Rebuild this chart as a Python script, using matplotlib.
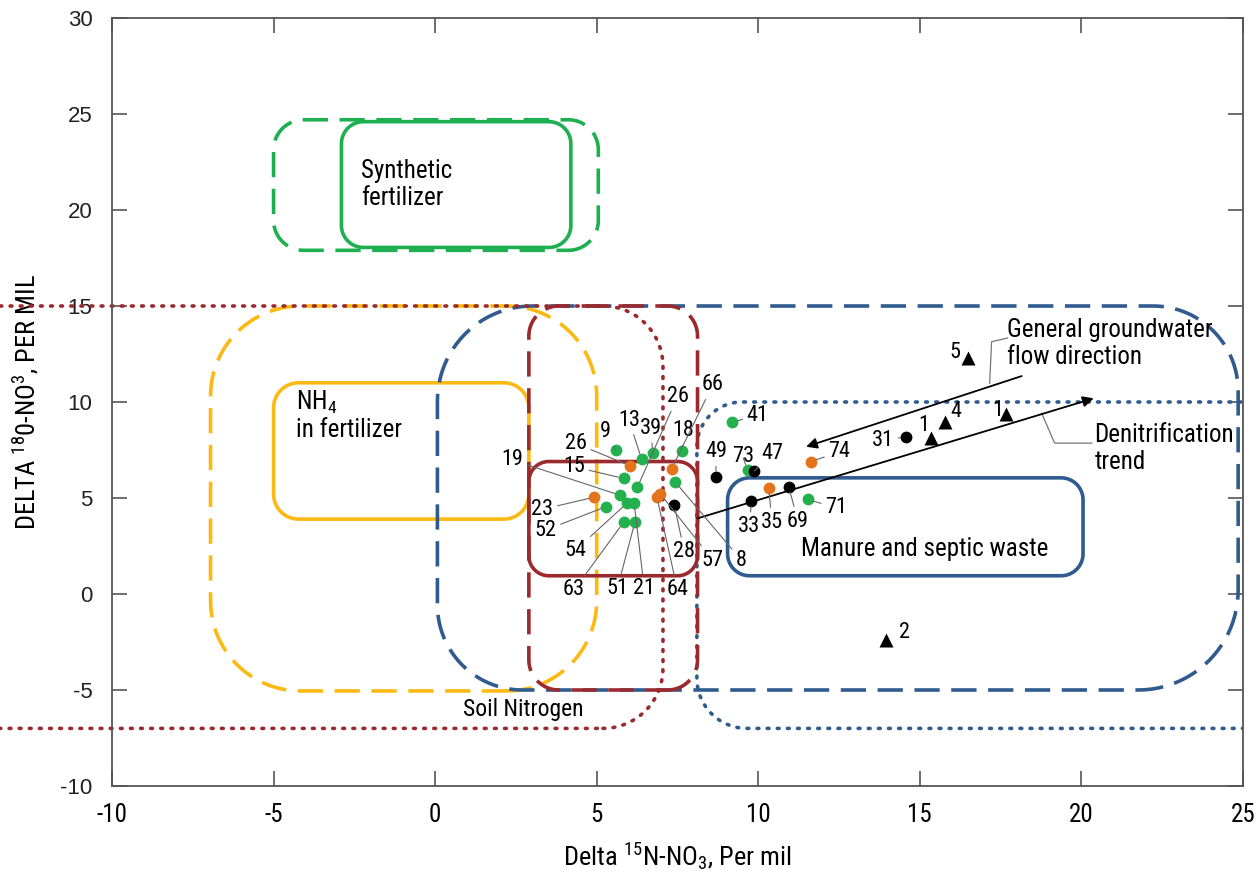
import numpy as np
import matplotlib
matplotlib.use("Agg")
from matplotlib import pyplot as plt

NARROW = ["Roboto Condensed", "DejaVu Sans"]
plt.rcParams["mathtext.fontset"] = "custom"
plt.rcParams["mathtext.rm"] = "Roboto Condensed"
plt.rcParams["mathtext.it"] = "Roboto Condensed"
plt.rcParams["axes.unicode_minus"] = False

# sample points
green_ids = ["9", "13", "39", "18", "26", "15", "19", "54", "21", "52", "63", "51", "8", "41", "73", "71"]
green_x = [5.59, 6.39, 6.73, 7.63, 6.26, 5.83, 5.73, 5.93, 6.16, 5.29, 5.83, 6.18, 7.42, 9.19, 9.67, 11.53]
green_y = [7.50, 7.01, 7.33, 7.45, 5.56, 6.02, 5.14, 4.72, 4.72, 4.55, 3.73, 3.73, 5.85, 8.94, 6.46, 4.93]

orange_ids = ["26", "66", "23", "64", "57", "35", "74"]
orange_x = [6.04, 7.32, 4.92, 6.86, 6.97, 10.32, 11.62]
orange_y = [6.67, 6.53, 5.04, 5.07, 5.21, 5.50, 6.89]

black_ids = ["28", "49", "47", "33", "69", "31"]
black_x = [7.40, 8.69, 9.88, 9.79, 10.94, 14.58]
black_y = [4.64, 6.11, 6.41, 4.86, 5.59, 8.19]

tri_ids = ["1", "4", "5", "1", "2"]
tri_x = [15.33, 15.77, 16.49, 17.68, 13.96]
tri_y = [8.11, 8.98, 12.28, 9.38, -2.40]

GREEN = "#22b14c"
ORANGE = "#e5731c"
YELLOW = "#fdb913"
RED = "#9b2a2f"
BLUE = "#2f5b8e"
GREENLINE = "#1daf50"

fig = plt.figure(figsize=(12.6, 8.83), dpi=100)
ax = fig.add_axes([112/1260, 1-786/883, (1243-112)/1260, 768/883])
ax.set_xlim(-10, 25)
ax.set_ylim(-10, 30)

SX = (1243-112)/35.0   # px per x unit
SY = 768/40.0          # px per y unit


def rrect(x0, x1, y0, y1, r, **kw):
    # rounded rectangle, corner radius in pixels (br, tr, tl, bl)
    if np.isscalar(r):
        r = [r, r, r, r]
    t = np.linspace(0, np.pi/2, 25)
    xs, ys = [], []
    corners = [(x1, y0, -np.pi/2, -1, 1), (x1, y1, 0, -1, -1),
               (x0, y1, np.pi/2, 1, -1), (x0, y0, np.pi, 1, 1)]
    for (cx, cy, a0, dx, dy), rr in zip(corners, r):
        rx, ry = rr/SX, rr/SY
        a = a0 + t
        xs += list(cx + dx*rx + rx*np.cos(a))
        ys += list(cy + dy*ry + ry*np.sin(a))
    xs.append(xs[0])
    ys.append(ys[0])
    ax.plot(xs, ys, solid_capstyle="butt", **kw)


dash = (0, (7, 3.2))
dot = (0, (0.5, 2.3))
LW = 2.6

rrect(-5.0, 5.05, 17.9, 24.7, 30, color=GREENLINE, lw=LW, ls=dash)
rrect(-2.9, 4.2, 18.05, 24.6, 22, color=GREENLINE, lw=LW)
rrect(-6.95, 5.0, -5.05, 15.0, 90, color=YELLOW, lw=LW, ls=dash)
rrect(-5.0, 2.9, 3.9, 11.0, 25, color=YELLOW, lw=LW)
rrect(0.07, 24.85, -5.0, 15.0, [100, 85, 95, 85], color=BLUE, lw=LW, ls=dash)
rrect(8.1, 26.5, -7.0, 10.0, [40, 40, 45, 50], color=BLUE, lw=LW, ls=dot,
      dash_capstyle="round")
rrect(9.05, 20.05, 0.95, 6.05, 22, color=BLUE, lw=LW)
rrect(2.9, 8.12, -5.0, 15.0, 30, color=RED, lw=LW, ls=dash)
rrect(2.9, 8.12, 0.95, 6.9, 20, color=RED, lw=LW)
rrect(-14.5, 7.05, -7.0, 15.0, [60, 60, 0, 0], color=RED, lw=LW, ls=dot,
      dash_capstyle="round", clip_on=False)

# trend arrows
ax.annotate("", xy=(20.38, 10.19), xytext=(8.12, 3.94),
            arrowprops=dict(arrowstyle="-|>", color="k", lw=1.3, mutation_scale=16,
                            shrinkA=0, shrinkB=0))
ax.annotate("", xy=(11.48, 7.67), xytext=(18.15, 11.35),
            arrowprops=dict(arrowstyle="-|>", color="k", lw=1.3, mutation_scale=16,
                            shrinkA=0, shrinkB=0))
ax.plot([17.71, 17.22, 17.16], [13.33, 13.14, 10.97], color="#777777", lw=0.9)
ax.plot([18.77, 19.17, 20.32], [9.41, 7.86, 7.86], color="#777777", lw=0.9)

# points
ax.plot(green_x, green_y, "o", color=GREEN, ms=8.5, mec="none", zorder=5)
ax.plot(orange_x, orange_y, "o", color=ORANGE, ms=8.5, mec="none", zorder=5)
ax.plot(black_x, black_y, "o", color="k", ms=8.5, mec="none", zorder=5)
ax.plot(tri_x, tri_y, "^", color="k", ms=10, mec="none", zorder=5)

# label placement (in data units)
label_pos = {
    "green": [(5.28, 8.45), (6.00, 9.06), (6.68, 8.63), (7.69, 8.51), (7.50, 10.28),
              (4.30, 6.63), (2.39, 6.98), (4.35, 2.29), (6.47, 0.30), (3.42, 3.33),
              (4.30, 0.21), (5.64, 0.30), (9.47, 1.77), (9.98, 9.32), (9.52, 7.15),
              (12.41, 4.48)],
    "orange": [(4.35, 7.85), (8.59, 10.89), (3.32, 4.41), (7.50, 0.21), (8.59, 1.77),
               (10.43, 3.75), (12.51, 7.40)],
    "black": [(7.71, 2.20), (8.69, 7.41), (10.45, 7.33), (9.72, 3.51), (11.23, 3.80),
              (13.87, 8.02)],
    "tri": [(15.11, 8.80), (16.13, 9.53), (16.10, 12.60), (17.40, 9.58), (14.52, -2.03)],
}
leader = dict(arrowstyle="-", color="#666666", lw=0.8, shrinkA=1, shrinkB=4)
groups = [("green", green_ids, green_x, green_y), ("orange", orange_ids, orange_x, orange_y),
          ("black", black_ids, black_x, black_y)]
for key, ids, xs, ys in groups:
    for lab, x, y, (lx, ly) in zip(ids, xs, ys, label_pos[key]):
        ax.annotate(lab, xy=(x, y), xytext=(lx, ly), ha="center", va="center",
                    fontsize=16, family=NARROW, arrowprops=leader, zorder=6)
for lab, (lx, ly) in zip(tri_ids, label_pos["tri"]):
    ax.text(lx, ly, lab, ha="center", va="center", fontsize=16, family=NARROW)

# region names
tk = dict(fontsize=18, family=NARROW, va="center", ha="left", linespacing=1.15)
ax.text(-2.3, 21.35, "Synthetic\nfertilizer", **tk)
ax.text(-4.3, 9.3, "NH$_4$\nin fertilizer", **tk)
ax.text(11.33, 2.34, "Manure and septic waste", **tk)
ax.text(2.74, -6.0, "Soil Nitrogen", fontsize=17, family=NARROW, ha="center", va="center")
ax.text(17.71, 13.05, "General groundwater\nflow direction", **tk)
ax.text(20.4, 7.6, "Denitrification\ntrend", **tk)

ax.set_xticks(np.arange(-10, 26, 5))
ax.set_yticks(np.arange(-10, 31, 5))
ax.tick_params(direction="in", length=11, width=1.2, top=True, right=True, colors="#555555")
ax.tick_params(axis="x", labelsize=18, pad=12, labelcolor="k")
ax.tick_params(axis="y", labelsize=16, pad=14, labelcolor="#222222")
for t in ax.get_xticklabels():
    t.set_family(NARROW)
for t in ax.get_yticklabels():
    t.set_family(["Liberation Sans", "DejaVu Sans"])
for s in ax.spines.values():
    s.set_color("#555555")
    s.set_linewidth(1.3)

ax.set_xlabel("Delta $^{15}$N-NO$_3$, Per mil", fontsize=19, family=NARROW, labelpad=10)
ax.set_ylabel("DELTA $^{18}$0-NO$^3$, PER MIL", fontsize=19, family=NARROW, labelpad=14)

fig.savefig("out.png", dpi=100)
